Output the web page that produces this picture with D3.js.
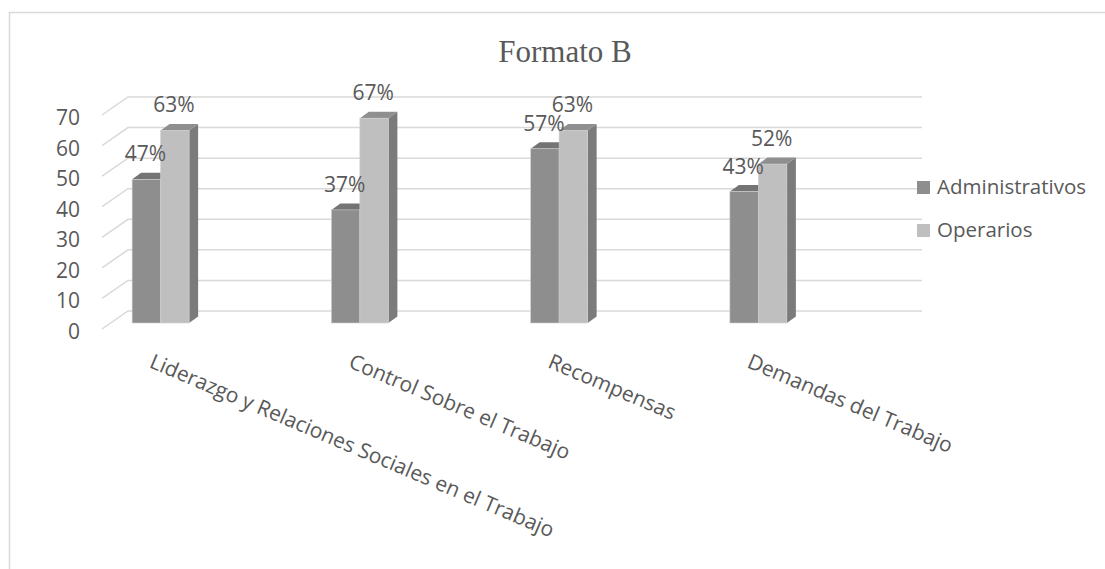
<!DOCTYPE html>
<html>
<head>
<meta charset="utf-8">
<script src="https://cdn.jsdelivr.net/npm/d3@7"></script>
<style>
  body { margin: 0; background: #fff; }
  svg { display: block; }
  text { fill: #595959; font-family: "Open Sans", sans-serif; }
</style>
</head>
<body>
<svg id="chart" width="1105" height="569"></svg>
<script>
// data
var categories = ["Liderazgo y Relaciones Sociales en el Trabajo", "Control Sobre el Trabajo", "Recompensas", "Demandas del Trabajo"];
var seriesNames = ["Administrativos", "Operarios"];
var administrativos = [47, 37, 57, 43];
var operarios = [63, 67, 63, 52];
var yTicks = [0, 10, 20, 30, 40, 50, 60, 70];

var seriesValues = [administrativos, operarios];
var frontColors = ["#8e8e8e", "#bfbfbf"];
var topColors = ["#747474", "#8f8f8f"];
var sideColors = ["#6f6f6f", "#7b7b7b"];

var svg = d3.select("#chart");

// chart frame (only top and left edges fall inside the picture)
svg.append("rect")
  .attr("x", 9.5).attr("y", 12.5)
  .attr("width", 1200).attr("height", 700)
  .attr("fill", "none").attr("stroke", "#d9d9d9").attr("stroke-width", 1.5);

// title
svg.append("text")
  .attr("x", 565).attr("y", 62)
  .attr("text-anchor", "middle")
  .style("font-family", "'Liberation Serif', 'Times New Roman', serif")
  .style("font-size", "31px")
  .text("Formato B");

// scales
var y = d3.scaleLinear().domain([0, 70]).range([323, 109]);
var x0 = d3.scaleBand().domain(categories).range([61, 858]);
var x1 = d3.scaleBand().domain(seriesNames).range([-28.5, 28.5]);

// 3d depth: whole floor and one bar
var floorDx = 26, floorDy = -18;
var barDx = 9, barDy = -6.5;
var wallLeft = 102, wallRight = 922;

// gridlines: front value = y + 6, back = y - 12
var grid = svg.append("g");
yTicks.forEach(function (t) {
  var yf = y(t) + 6;
  grid.append("path")
    .attr("d", "M" + wallLeft + "," + yf + "L" + (wallLeft + floorDx) + "," + (yf + floorDy) + "L" + wallRight + "," + (yf + floorDy))
    .attr("fill", "none").attr("stroke", "#d9d9d9").attr("stroke-width", 1.5);
});

// y axis labels
svg.append("g").selectAll("text")
  .data(yTicks).enter().append("text")
  .attr("x", 80)
  .attr("y", function (d) { return y(d) + 16; })
  .attr("text-anchor", "end")
  .style("font-size", "21px")
  .text(function (d) { return d; });

// bars
var bars = svg.append("g");
categories.forEach(function (c, ci) {
  var center = x0(c) + x0.bandwidth() / 2;
  seriesNames.forEach(function (s, si) {
    var v = seriesValues[si][ci];
    var bx = center + x1(s);
    var bw = x1.bandwidth();
    var yt = y(v), yb = y(0);
    // side
    bars.append("path")
      .attr("d", "M" + (bx + bw) + "," + yt + "L" + (bx + bw + barDx) + "," + (yt + barDy) +
        "L" + (bx + bw + barDx) + "," + (yb + barDy) + "L" + (bx + bw) + "," + yb + "Z")
      .attr("fill", sideColors[si]);
    // top
    bars.append("path")
      .attr("d", "M" + bx + "," + yt + "L" + (bx + barDx) + "," + (yt + barDy) +
        "L" + (bx + bw + barDx) + "," + (yt + barDy) + "L" + (bx + bw) + "," + yt + "Z")
      .attr("fill", topColors[si]);
    // front
    bars.append("rect")
      .attr("x", bx).attr("y", yt)
      .attr("width", bw).attr("height", yb - yt)
      .attr("fill", frontColors[si])
      .attr("stroke", "#d0d0d0").attr("stroke-width", 0.6);
  });
});

// data labels
var labels = svg.append("g");
categories.forEach(function (c, ci) {
  var center = x0(c) + x0.bandwidth() / 2;
  seriesNames.forEach(function (s, si) {
    var v = seriesValues[si][ci];
    labels.append("text")
      .attr("x", center + x1(s) + x1.bandwidth() / 2 - 1)
      .attr("y", y(v) - 18)
      .attr("text-anchor", "middle")
      .style("font-size", "21px")
      .text(v + "%");
  });
});

// category labels
svg.append("g").selectAll("text")
  .data(categories).enter().append("text")
  .attr("transform", function (d) {
    var cx = x0(d) + x0.bandwidth() / 2 - 12.5;
    return "translate(" + cx + ",367) rotate(23)";
  })
  .style("font-size", "21px")
  .text(function (d) { return d; });

// legend
var legend = svg.append("g").attr("transform", "translate(917,181)");
seriesNames.forEach(function (s, i) {
  var g = legend.append("g").attr("transform", "translate(0," + (i * 43) + ")");
  g.append("rect").attr("width", 13).attr("height", 13).attr("fill", frontColors[i]);
  g.append("text").attr("x", 20).attr("y", 13).style("font-size", "20.5px").text(s);
});
</script>
</body>
</html>
